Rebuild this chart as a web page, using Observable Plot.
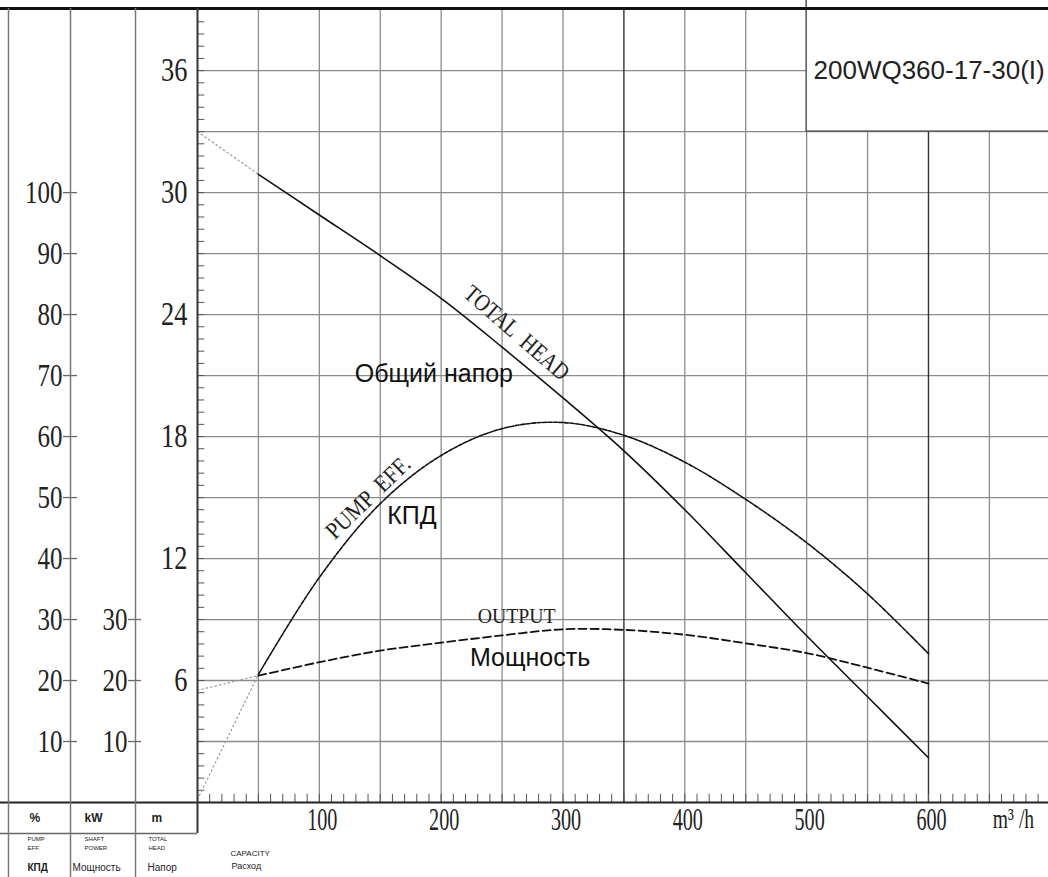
<!DOCTYPE html>
<html><head><meta charset="utf-8">
<script src="https://cdn.jsdelivr.net/npm/d3@7"></script>
<script src="https://cdn.jsdelivr.net/npm/@observablehq/plot@0.6"></script>
<style>html,body{margin:0;padding:0;background:#fff;}</style>
</head><body><div id="chart"></div>
<script>
// ---------- data ----------
const capacity   = [50, 100, 150, 200, 250, 300, 350, 400, 450, 500, 550, 600];           // m3/h
const totalHead  = [30.9, 28.9, 26.9, 24.8, 22.4, 19.9, 17.3, 14.4, 11.3, 8.2, 5.2, 2.2]; // m
const pumpEff    = [21.0, 36.9, 49.0, 56.9, 61.3, 62.3, 60.2, 55.8, 49.7, 42.6, 34.2, 24.4]; // %
const shaftPower = [20.8, 23.0, 24.9, 26.2, 27.4, 28.4, 28.3, 27.5, 26.1, 24.5, 22.1, 19.5]; // kW
// dotted extrapolation to zero flow
const extCapacity = [0, 50];
const headExt  = [33.0, 30.9];
const effExt   = [0.5, 21.0];
const powerExt = [18.4, 20.8];

const xTickLabels   = [100, 200, 300, 400, 500, 600];
const headTickLabels = [6, 12, 18, 24, 30, 36];
const effTickLabels  = [10, 20, 30, 40, 50, 60, 70, 80, 90, 100];
const powerTickLabels = [10, 20, 30];
const gridCapacity = [50, 100, 150, 200, 250, 300, 400, 450, 500, 550, 650];
const darkGridCapacity = [350, 600];
const gridHead = [3, 6, 9, 12, 15, 18, 21, 24, 27, 30, 33, 36];
const modelName = "200WQ360-17-30(I)";

const serifLabels = [
  {text: "TOTAL  HEAD", q: 262, h: 23.1, rotate: 41, size: 24, squeeze: 0.85},
  {text: "PUMP  EFF.",  q: 140, h: 15.0, rotate: -44, size: 24, squeeze: 0.88},
  {text: "OUTPUT",      q: 262, h: 9.2,  rotate: 0,  size: 22, squeeze: 0.9}
];
const sansLabels = [
  {text: "Общий напор", q: 194, h: 21.1},
  {text: "КПД",         q: 176, h: 14.1},
  {text: "Мощность",    q: 273, h: 7.1}
];

// ---------- layout ----------
const W = 1048, H = 877;
const mL = 197, mT = 8, mB = 75, mR = 0;
const pxPerQ = 1.2183, pxPerM = 20.33;
const xMax = (W - mL - mR) / pxPerQ;
const yMax = (H - mB - mT) / pxPerM;
const toHead = 0.3; // 10 % (or 10 kW) is drawn over 3 m of the head scale
const serif = "'Liberation Serif','DejaVu Serif',serif";
const sans = "'Liberation Sans',Arial,sans-serif";
// serif text narrowed horizontally: the scale factor is carried in a dummy family name
const narrow = s => `${serif},'sq${Math.round(s * 100)}'`;
const at = (px, py) => ({frameAnchor: "top-left", lineAnchor: "middle", dx: px - mL, dy: py - mT});

const rows = capacity.map((q, i) => ({q, head: totalHead[i], eff: pumpEff[i] * toHead, pow: shaftPower[i] * toHead}));
const ext = extCapacity.map((q, i) => ({q, head: headExt[i], eff: effExt[i] * toHead, pow: powerExt[i] * toHead}));
const minorQ = d3.range(10, 700, 10);
const minorHead = d3.range(0.6, 39, 0.6);

const gridColor = "#8c8c8c";
const small = (txt, px, py, size, extra = {}) =>
  Plot.text([txt], {...at(px, py), text: d => d, textAnchor: "start", fontSize: size, fontFamily: sans, fill: "#222", ...extra});

const svg = Plot.plot({
  width: W, height: H,
  marginLeft: mL, marginRight: mR, marginTop: mT, marginBottom: mB,
  x: {type: "linear", domain: [0, xMax], axis: null},
  y: {type: "linear", domain: [0, yMax], axis: null},
  style: {background: "#fff"},
  marks: [
    // grid
    Plot.ruleY(gridHead, {stroke: gridColor, strokeWidth: 1.3}),
    Plot.ruleX(gridCapacity, {stroke: gridColor, strokeWidth: 1.3}),
    Plot.ruleX(darkGridCapacity, {stroke: "#333", strokeWidth: 1.4}),
    // title box
    Plot.rect([0], {x1: 500, x2: xMax + 5, y1: 33, y2: yMax + 1, fill: "#fff", stroke: "#555", strokeWidth: 1.5}),
    Plot.text([modelName], {...at(813, 70), text: d => d, textAnchor: "start", fontSize: 26, fontFamily: sans, fill: "#222"}),
    // minor ticks
    Plot.ruleX(minorQ, {y1: 0, y2: 0.4, stroke: "#555", strokeWidth: 1}),
    Plot.ruleY(minorHead, {x1: 0, x2: 6, stroke: "#555", strokeWidth: 1}),
    // dotted extrapolation
    Plot.line(ext, {x: "q", y: "head", stroke: "#999", strokeWidth: 1.2, strokeDasharray: "1.5,3"}),
    Plot.line(ext, {x: "q", y: "eff", stroke: "#999", strokeWidth: 1.2, strokeDasharray: "1.5,3"}),
    Plot.line(ext, {x: "q", y: "pow", stroke: "#999", strokeWidth: 1.2, strokeDasharray: "1.5,3"}),
    // curves
    Plot.line(rows, {x: "q", y: "head", stroke: "#111", strokeWidth: 1.6, curve: "catmull-rom"}),
    Plot.line(rows, {x: "q", y: "eff", stroke: "#111", strokeWidth: 1.6, strokeDasharray: "4,1.5", curve: "catmull-rom"}),
    Plot.line(rows, {x: "q", y: "pow", stroke: "#111", strokeWidth: 1.8, strokeDasharray: "8,4", curve: "catmull-rom"}),
    // curve labels
    ...serifLabels.map(l => Plot.text([l], {x: "q", y: "h", text: "text", rotate: l.rotate, fontSize: l.size, fontFamily: narrow(l.squeeze), fill: "#222"})),
    Plot.text(sansLabels, {x: "q", y: "h", text: "text", fontSize: 25, fontFamily: sans, fill: "#111"}),
    // left scales
    Plot.text(effTickLabels, {y: d => d * toHead, frameAnchor: "left", text: d => String(d), textAnchor: "end", dx: 62 - mL, fontSize: 32, fontFamily: narrow(0.78), fill: "#222"}),
    Plot.ruleY(effTickLabels, {y: d => d * toHead, insetLeft: 63 - mL, insetRight: W - 77, stroke: "#666", strokeWidth: 1.3}),
    Plot.text(powerTickLabels, {y: d => d * toHead, frameAnchor: "left", text: d => String(d), textAnchor: "end", dx: 127 - mL, fontSize: 32, fontFamily: narrow(0.78), fill: "#222"}),
    Plot.ruleY(powerTickLabels, {y: d => d * toHead, insetLeft: 128 - mL, insetRight: W - 141, stroke: "#666", strokeWidth: 1.3}),
    Plot.text(headTickLabels, {y: d => d, frameAnchor: "left", text: d => String(d), textAnchor: "end", dx: 187 - mL, fontSize: 33, fontFamily: narrow(0.8), fill: "#222"}),
    // x labels
    Plot.text(xTickLabels, {x: d => d, frameAnchor: "bottom", lineAnchor: "middle", text: d => String(d), dx: 3, dy: 18, fontSize: 31, fontFamily: narrow(0.65), fill: "#222"}),
    Plot.text(["m³ /h"], {...at(1013, 819), textAnchor: "middle", text: d => d, fontSize: 28, fontFamily: narrow(0.7), fill: "#222"}),
    // frame lines
    Plot.ruleY([0], {insetLeft: -mL, stroke: "#222", strokeWidth: 2}),
    Plot.ruleY([yMax], {insetLeft: -mL, stroke: "#111", strokeWidth: 3}),
    Plot.ruleY([0], {dy: 31, insetLeft: -mL, insetRight: W - mL, stroke: "#666", strokeWidth: 1.3}),
    Plot.ruleX([0], {insetBottom: -31, stroke: "#333", strokeWidth: 2}),
    Plot.ruleX([0], {dx: 135 - mL, insetBottom: -mB, stroke: "#777", strokeWidth: 1.5}),
    Plot.ruleX([0], {dx: 70 - mL, insetBottom: -mB, stroke: "#777", strokeWidth: 1.5}),
    Plot.ruleX([0], {dx: 8 - mL, insetBottom: -mB, stroke: "#777", strokeWidth: 1.5}),
    // bottom captions
    small("%", 29, 818, 12, {fontWeight: "bold"}),
    small("kW", 84, 818, 12, {fontWeight: "bold"}),
    small("m", 151, 818, 12, {fontWeight: "bold"}),
    small("PUMP", 27, 839, 6), small("EFF.", 27, 848, 6),
    small("SHAFT", 84, 839, 6), small("POWER", 84, 848, 6),
    small("TOTAL", 148, 839, 6), small("HEAD", 148, 848, 6),
    small("КПД", 27, 867, 10, {fontWeight: "bold"}),
    small("Мощность", 72, 867, 10),
    small("Напор", 147, 867, 10),
    small("CAPACITY", 230, 853, 8),
    small("Расход", 231, 866, 9)
  ]
});

svg.querySelectorAll("g[font-family]").forEach(g => {
  const m = /sq(\d+)/.exec(g.getAttribute("font-family"));
  if (!m) return;
  const s = +m[1] / 100;
  g.querySelectorAll("text").forEach(t => {
    t.setAttribute("transform", (t.getAttribute("transform") || "") + ` scale(${s},1)`);
  });
});
document.getElementById("chart").appendChild(svg);
</script>
</body></html>
